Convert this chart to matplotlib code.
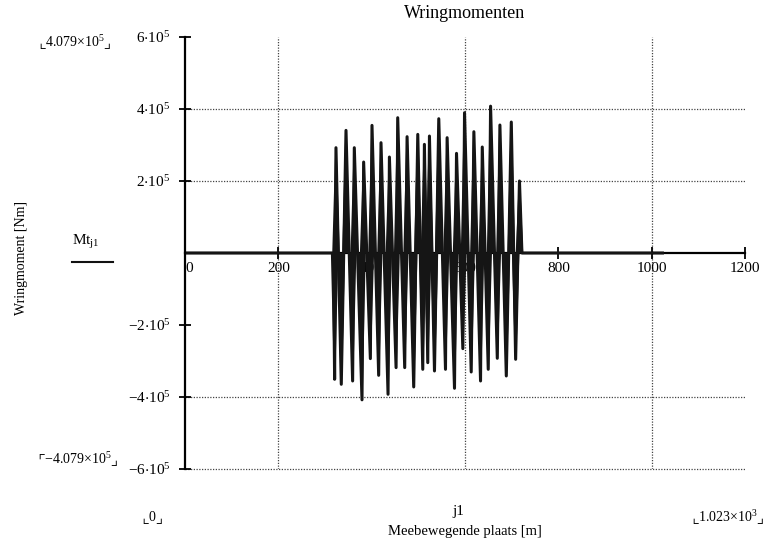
import numpy as np
import matplotlib.pyplot as plt

plt.rcParams['font.family'] = ['Liberation Serif', 'DejaVu Sans']
plt.rcParams['mathtext.fontset'] = 'custom'
plt.rcParams['mathtext.rm'] = 'Liberation Serif'
plt.rcParams['mathtext.fallback'] = 'stix'

# positive spike tops (j1 in m, Mt in Nm)
pos_x = [323.5, 345.0, 362.8, 382.8, 400.7, 420.0, 438.0, 455.8, 475.9, 498.8, 513.0,
         523.8, 543.8, 561.7, 581.8, 599.0, 619.0, 637.0, 654.8, 674.8, 699.2, 716.7]
pos_y = [292500, 340600, 292500, 252700, 354500, 306400, 266600, 375800, 323100, 329500, 301800,
         324900, 373000, 320300, 276800, 389700, 336900, 294400, 407900, 355500, 363800, 200000]

# negative spike bottoms
neg_x = [320.6, 334.9, 359.2, 379.3, 397.2, 415.0, 435.1, 452.3, 470.8, 490.1, 509.5,
         520.2, 534.6, 558.2, 577.5, 595.4, 613.3, 633.3, 649.8, 669.2, 688.5, 708.5]
neg_y = [-350800, -364700, -355500, -407900, -293400, -339800, -392500, -318400, -318400, -372100, -323100,
         -304600, -327700, -323100, -375800, -265700, -330500, -355500, -323100, -292500, -341600, -295300]

x_start, x_end, j_max = 318.0, 722.0, 1023.0

xs = np.array([0.0, x_start] + pos_x + neg_x + [x_end, j_max])
ys = np.array([0.0, 0.0] + pos_y + neg_y + [0.0, 0.0])
order = np.argsort(xs, kind='stable')
xs, ys = xs[order], ys[order]

xticks = [0, 200, 400, 600, 800, 1000, 1200]
yticks = [-6e5, -4e5, -2e5, 2e5, 4e5, 6e5]
ytick_labels = [r'$\mathregular{-6{\cdot}10^{5}}$', r'$\mathregular{-4{\cdot}10^{5}}$',
                r'$\mathregular{-2{\cdot}10^{5}}$', r'$\mathregular{2{\cdot}10^{5}}$',
                r'$\mathregular{4{\cdot}10^{5}}$', r'$\mathregular{6{\cdot}10^{5}}$']
xgrid = [200, 600, 1000]
ygrid = [4e5, 2e5, -4e5, -6e5]

fig = plt.figure(figsize=(7.68, 5.44), dpi=100)
ax = fig.add_axes([185 / 768, 75 / 544, 560 / 768, 432 / 544])

for g in xgrid:
    ax.axvline(g, color='#444444', lw=0.9, ls=(0, (1, 1.2)), zorder=1)
for g in ygrid:
    ax.axhline(g, color='#444444', lw=0.9, ls=(0, (1, 1.2)), zorder=1, clip_on=False)

# each burst drawn as a tapered spindle from zero to its peak
half_w = 8.0
for x, y in zip(pos_x + neg_x, pos_y + neg_y):
    ax.fill([x - half_w, x - 1.5, x + 1.5, x + half_w], [0, y, y, 0], color='#151515', lw=0, zorder=3)
ax.plot(xs, ys, color='#151515', lw=2.2, zorder=3)

ax.set_xlim(0, 1200)
ax.set_ylim(-6e5, 6e5)

for s in ['top', 'right']:
    ax.spines[s].set_visible(False)
ax.spines['bottom'].set_position(('data', 0))
ax.spines['left'].set_linewidth(1.6)
ax.spines['bottom'].set_linewidth(1.6)
ax.spines['left'].set_zorder(4)

ax.set_xticks(xticks)
ax.set_xticklabels([str(t) for t in xticks])
ax.set_yticks(yticks)
ax.set_yticklabels(ytick_labels)
ax.tick_params(axis='both', direction='inout', length=9, width=1.3, labelsize=11, pad=2)
ax.tick_params(axis='y', pad=6)
for lbl in ax.get_xticklabels():
    lbl.set_horizontalalignment('left' if lbl.get_text() == '0' else 'center')

fig.text(465 / 768, 1 - 14 / 544, 'Wringmomenten', ha='center', va='center', fontsize=13)
fig.text(22 / 768, 1 - 258 / 544, 'Wringmoment [Nm]', rotation=90, ha='center', va='center', fontsize=10)
fig.text(86 / 768, 1 - 242 / 544, r'Mt$_{\mathregular{j1}}$', ha='center', va='center', fontsize=11)
fig.add_artist(plt.Line2D([72 / 768, 113 / 768], [1 - 262 / 544, 1 - 262 / 544], color='#111111', lw=1.5))
fig.text(75 / 768, 1 - 43 / 544, r'$\llcorner\mathregular{4.079{\times}10^{5}}\lrcorner$', ha='center', va='center', fontsize=10)
fig.text(78 / 768, 1 - 460 / 544, r'$\ulcorner\mathregular{-4.079{\times}10^{5}}\lrcorner$', ha='center', va='center', fontsize=10)
fig.text(153 / 768, 1 - 518 / 544, r'$\llcorner\mathregular{0}\lrcorner$', ha='center', va='center', fontsize=10)
fig.text(728 / 768, 1 - 518 / 544, r'$\llcorner\mathregular{1.023{\times}10^{3}}\lrcorner$', ha='center', va='center', fontsize=10)
fig.text(458 / 768, 1 - 512 / 544, 'j1', ha='center', va='center', fontsize=11)
fig.text(465 / 768, 1 - 531 / 544, 'Meebewegende plaats [m]', ha='center', va='center', fontsize=10.5)

fig.savefig('out.png', dpi=100)
